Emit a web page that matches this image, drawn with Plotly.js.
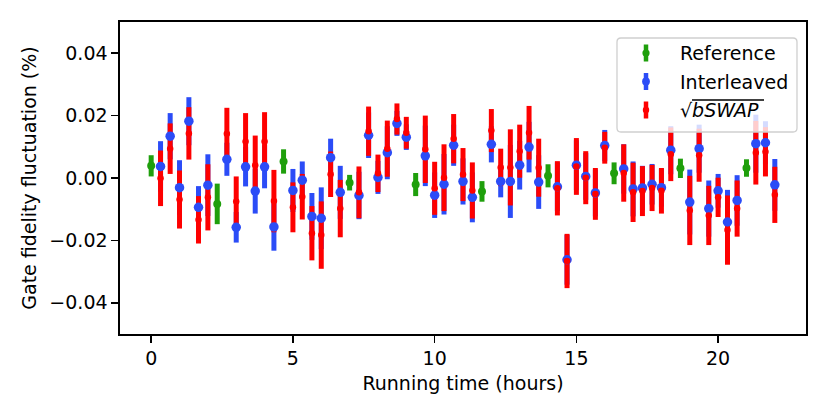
<!DOCTYPE html>
<html>
<head>
<meta charset="utf-8">
<script src="https://cdn.plot.ly/plotly-3.0.1.min.js"></script>
<style>
  body { margin: 0; background: #fff; }
  #chart { width: 830px; height: 409px; }
</style>
</head>
<body>
<div id="chart"></div>
<script>
// Reference (green) runs, hours
var refTime = [0, 2.33, 4.67, 7.0, 9.33, 11.67, 14.0, 16.33, 18.67, 21.0];
var refVal  = [0.0039, -0.0083, 0.0053, -0.0015, -0.0021, -0.0043, 0.0007, 0.0015, 0.0031, 0.0032];
var refErr  = [0.0034, 0.0065, 0.0039, 0.0025, 0.0037, 0.0033, 0.0037, 0.0035, 0.0031, 0.0028];

// Interleaved and sqrt(bSWAP) share the same time stamps
var gateTime = [
  0.33, 0.67, 1.0, 1.33, 1.67, 2.0,
  2.67, 3.0, 3.33, 3.67, 4.0, 4.33,
  5.0, 5.33, 5.67, 6.0, 6.33, 6.67,
  7.33, 7.67, 8.0, 8.33, 8.67, 9.0,
  9.67, 10.0, 10.33, 10.67, 11.0, 11.33,
  12.0, 12.33, 12.67, 13.0, 13.33, 13.67,
  14.33, 14.67, 15.0, 15.33, 15.67, 16.0,
  16.67, 17.0, 17.33, 17.67, 18.0, 18.33,
  19.0, 19.33, 19.67, 20.0, 20.33, 20.67,
  21.33, 21.67, 22.0
];

var interVal = [
  0.0037, 0.0134, -0.0031, 0.0182, -0.0094, -0.0023,
  0.0060, -0.0158, 0.0036, -0.0042, 0.0036, -0.0157,
  -0.0040, -0.0007, -0.0123, -0.0129, 0.0065, -0.0046,
  -0.0056, 0.0137, 0.0002, 0.0081, 0.0175, 0.0131,
  0.0071, -0.0055, -0.0020, 0.0105, -0.0011, -0.0062,
  0.0108, -0.0011, -0.0011, 0.0041, 0.0099, -0.0013,
  -0.0028, -0.0262, 0.0041, 0.0005, -0.0048, 0.0104,
  0.0029, -0.0035, -0.0032, -0.0020, -0.0031, 0.0089,
  -0.0077, 0.0094, -0.0098, -0.0041, -0.0141, -0.0072,
  0.0110, 0.0113, -0.0022
];
var interErr = [
  0.0081, 0.0074, 0.0088, 0.0077, 0.0068, 0.0099,
  0.0053, 0.0049, 0.0063, 0.0072, 0.0069, 0.0076,
  0.0069, 0.0060, 0.0075, 0.0099, 0.0061, 0.0085,
  0.0076, 0.0073, 0.0053, 0.0085, 0.0040, 0.0041,
  0.0097, 0.0073, 0.0097, 0.0066, 0.0074, 0.0080,
  0.0058, 0.0051, 0.0117, 0.0078, 0.0081, 0.0086,
  0.0078, 0.0080, 0.0080, 0.0075, 0.0075, 0.0050,
  0.0079, 0.0088, 0.0071, 0.0065, 0.0061, 0.0077,
  0.0104, 0.0077, 0.0090, 0.0054, 0.0103, 0.0081,
  0.0093, 0.0069, 0.0083
];

var bswapVal = [
  -0.0001, 0.0094, -0.0069, 0.0143, -0.0134, -0.0062,
  0.0142, -0.0075, 0.0117, 0.0041, 0.0117, -0.0074,
  -0.0094, -0.0060, -0.0177, -0.0183, 0.0012, -0.0098,
  -0.0046, 0.0150, 0.0015, 0.0094, 0.0189, 0.0145,
  0.0092, -0.0033, 0.0001, 0.0126, 0.0011, -0.0040,
  0.0152, 0.0034, 0.0034, 0.0086, 0.0145, 0.0033,
  -0.0033, -0.0266, 0.0037, 0.0001, -0.0051, 0.0097,
  0.0016, -0.0046, -0.0042, -0.0032, -0.0041, 0.0076,
  -0.0104, 0.0073, -0.0120, -0.0062, -0.0167, -0.0098,
  0.0081, 0.0084, -0.0054
];
var bswapErr = [
  0.0089, 0.0081, 0.0093, 0.0084, 0.0076, 0.0106,
  0.0083, 0.0080, 0.0091, 0.0095, 0.0094, 0.0100,
  0.0080, 0.0073, 0.0087, 0.0108, 0.0073, 0.0092,
  0.0083, 0.0079, 0.0060, 0.0090, 0.0050, 0.0051,
  0.0108, 0.0085, 0.0107, 0.0079, 0.0085, 0.0090,
  0.0069, 0.0060, 0.0122, 0.0085, 0.0086, 0.0093,
  0.0087, 0.0087, 0.0091, 0.0085, 0.0083, 0.0051,
  0.0092, 0.0095, 0.0080, 0.0074, 0.0073, 0.0086,
  0.0111, 0.0085, 0.0095, 0.0063, 0.0111, 0.0090,
  0.0102, 0.0079, 0.0090
];

var seriesNames = ['Reference', 'Interleaved', 'bSWAP'];
var seriesColors = ['#1f9f0c', '#2b4cf7', '#fe0000'];

var FONT = 'DejaVu Sans, Verdana, sans-serif';
var W = 830, H = 409;
var M = {l: 120, r: 24, t: 22, b: 75};

// pixel -> paper helpers, used for the hand drawn legend
function pX(px){ return (px - M.l) / (W - M.l - M.r); }
function pY(py){ return (H - M.b - py) / (H - M.t - M.b); }

// error bars only, markers invisible (so every marker ends up above every bar)
function barTrace(x, y, err, color){
  return {
    x: x, y: y, type: 'scatter', mode: 'markers',
    marker: {opacity: 0, size: 1},
    error_y: {type: 'data', array: err, color: color, thickness: 5, width: 0},
    hoverinfo: 'skip', showlegend: false
  };
}

function dotTrace(x, y, color, size, name){
  return {
    x: x, y: y, type: 'scatter', mode: 'markers', name: name,
    marker: {color: color, size: size, line: {width: 0}},
    showlegend: false
  };
}

// rounded box in paper coords
function roundBox(x0, y0, x1, y1, r){
  var rx = r / (W - M.l - M.r), ry = r / (H - M.t - M.b);
  var a = pX(x0), b = pX(x1), top = pY(y0), bot = pY(y1);
  return 'M' + (a + rx) + ',' + top +
    ' L' + (b - rx) + ',' + top + ' Q' + b + ',' + top + ' ' + b + ',' + (top - ry) +
    ' L' + b + ',' + (bot + ry) + ' Q' + b + ',' + bot + ' ' + (b - rx) + ',' + bot +
    ' L' + (a + rx) + ',' + bot + ' Q' + a + ',' + bot + ' ' + a + ',' + (bot + ry) +
    ' L' + a + ',' + (top - ry) + ' Q' + a + ',' + top + ' ' + (a + rx) + ',' + top + ' Z';
}

function makeLegend(shapes, annotations){
  shapes.push({
    type: 'path', xref: 'paper', yref: 'paper', layer: 'above',
    path: roundBox(617, 38, 797, 132, 4),
    fillcolor: 'rgba(255,255,255,0.8)',
    line: {color: '#cfcfcf', width: 1.3}
  });
  var rows = [53, 81.5, 110];
  var dotR = [3.6, 3.9, 3.2];
  var hx = 646;
  for (let i = 0; i < rows.length; i++) {
    shapes.push({
      type: 'line', xref: 'paper', yref: 'paper', layer: 'above',
      x0: pX(hx), x1: pX(hx), y0: pY(rows[i] - 8.5), y1: pY(rows[i] + 8.5),
      line: {color: seriesColors[i], width: 4.5}
    });
    shapes.push({
      type: 'circle', xref: 'paper', yref: 'paper', layer: 'above',
      x0: pX(hx - dotR[i]), x1: pX(hx + dotR[i]),
      y0: pY(rows[i] + dotR[i]), y1: pY(rows[i] - dotR[i]),
      fillcolor: seriesColors[i], line: {width: 0}
    });
  }
  let labels = [seriesNames[0], seriesNames[1], '\u221A<i>' + seriesNames[2] + '</i>'];
  for (let i = 0; i < rows.length; i++) {
    annotations.push({
      xref: 'paper', yref: 'paper', x: pX(678), y: pY(rows[i]),
      xanchor: 'left', yanchor: 'middle', showarrow: false,
      text: labels[i], font: {family: FONT, size: 19, color: '#000'}
    });
  }
  // overline of the square root
  shapes.push({
    type: 'line', xref: 'paper', yref: 'paper', layer: 'above',
    x0: pX(692), x1: pX(764), y0: pY(100), y1: pY(100),
    line: {color: '#000', width: 1.3}
  });
}

var data = [
  barTrace(refTime, refVal, refErr, seriesColors[0]),
  barTrace(gateTime, interVal, interErr, seriesColors[1]),
  barTrace(gateTime, bswapVal, bswapErr, seriesColors[2]),
  dotTrace(refTime, refVal, seriesColors[0], 8, seriesNames[0]),
  dotTrace(gateTime, interVal, seriesColors[1], 9.5, seriesNames[1]),
  dotTrace(gateTime, bswapVal, seriesColors[2], 6.5, seriesNames[2])
];

var shapes = [];
var annotations = [];
makeLegend(shapes, annotations);

var axisCommon = {
  showline: true, linecolor: '#000', linewidth: 1.6, mirror: true,
  ticks: 'outside', ticklen: 7, tickwidth: 1.5, tickcolor: '#000',
  showgrid: false, zeroline: false,
  tickfont: {family: FONT, size: 19, color: '#000'}
};

var layout = {
  width: W, height: H,
  margin: M,
  paper_bgcolor: '#fff', plot_bgcolor: '#fff',
  showlegend: false,
  font: {family: FONT, size: 19, color: '#000'},
  xaxis: Object.assign({}, axisCommon, {
    range: [-1.1, 23.1], tick0: 0, dtick: 5,
    title: {text: 'Running time (hours)', font: {family: FONT, size: 19, color: '#000'}, standoff: 8}
  }),
  yaxis: Object.assign({}, axisCommon, {
    range: [-0.05, 0.05], tick0: 0, dtick: 0.02, tickformat: '.2f',
    title: {text: 'Gate fidelity fluctuation (%)', font: {family: FONT, size: 19, color: '#000'}, standoff: 8}
  }),
  shapes: shapes,
  annotations: annotations
};

Plotly.newPlot('chart', data, layout, {displayModeBar: false, staticPlot: true});
</script>
</body>
</html>
